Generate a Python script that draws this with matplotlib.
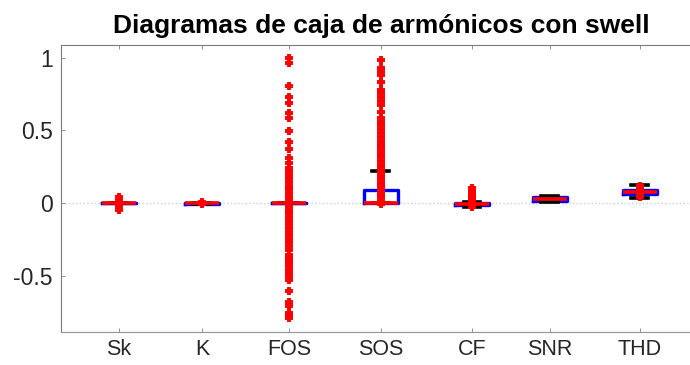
import matplotlib
matplotlib.use("Agg")
import matplotlib.pyplot as plt

plt.rcParams["font.family"] = ["Liberation Sans", "DejaVu Sans"]
plt.rcParams["axes.unicode_minus"] = False

# ─── Data ──────────────────────────────────────────────────────────────────
labels = ["Sk", "K", "FOS", "SOS", "CF", "SNR", "THD"]
q1 = [-0.002, -0.004, -0.002, 0.0, -0.013, 0.014, 0.060]
med = [0.0, 0.0, 0.0, 0.0, -0.005, 0.027, 0.077]
q3 = [0.002, 0.003, 0.002, 0.088, 0.002, 0.043, 0.093]
whislo = [-0.002, -0.004, -0.002, 0.0, -0.026, 0.005, 0.038]
whishi = [0.002, 0.003, 0.002, 0.220, 0.010, 0.051, 0.124]

fliers_sk = [-0.046, -0.036, -0.026, -0.016, -0.008, 0.008, 0.016, 0.026, 0.035, 0.043]
fliers_k = [-0.008, 0.006]
fliers_fos = [0.996, 0.962, 0.806, 0.732, 0.691, 0.618, 0.584, 0.497, 0.423,
              0.371, 0.309, 0.275, 0.245, 0.22, 0.195, 0.17, 0.145, 0.12, 0.095,
              0.07, 0.045, 0.02, -0.02, -0.045, -0.07, -0.095, -0.12, -0.145,
              -0.17, -0.195, -0.22, -0.245, -0.27, -0.295, -0.32, -0.355, -0.375,
              -0.395, -0.415, -0.435, -0.458, -0.48, -0.503, -0.527, -0.607,
              -0.676, -0.693, -0.71, -0.755, -0.772, -0.79]
fliers_sos = [0.984, 0.927, 0.904, 0.881, 0.835, 0.778, 0.755, 0.73, 0.70, 0.675,
              0.629, 0.584, 0.56, 0.535, 0.51, 0.485, 0.457, 0.43, 0.41, 0.389,
              0.365, 0.34, 0.315, 0.29, 0.265, 0.24, 0.215, 0.19, 0.165, 0.14,
              0.115, 0.09, 0.065, 0.04, 0.015, -0.005]
fliers_cf = [-0.025, -0.015, -0.005, 0.005, 0.015, 0.025, 0.035, 0.045, 0.055,
             0.065, 0.075, 0.085, 0.095, 0.105]
fliers_snr = []
fliers_thd = [0.043, 0.05, 0.058, 0.066, 0.074, 0.082, 0.09, 0.098, 0.106, 0.115]
fliers = [fliers_sk, fliers_k, fliers_fos, fliers_sos, fliers_cf, fliers_snr, fliers_thd]

yticks = [-0.5, 0, 0.5, 1]
ytick_labels = ["-0.5", "0", "0.5", "1"]

# ─── Layout ────────────────────────────────────────────────────────────────
POSITIONS = [1, 1.956, 2.958, 4.018, 5.067, 5.965, 7.0]
BOX_W = 0.39

stats = [
    dict(label=lab, q1=a, med=m, q3=b, whislo=lo, whishi=hi, fliers=fl)
    for lab, a, m, b, lo, hi, fl in zip(labels, q1, med, q3, whislo, whishi, fliers)
]

fig = plt.figure(figsize=(6.9, 3.65), dpi=100)
ax = fig.add_axes([61 / 690, 1 - 331.5 / 365, (702 - 61) / 690, (331.5 - 45) / 365])

ax.axhline(0, color="#cfcfcf", ls=":", lw=1.0, zorder=0)

ax.bxp(
    stats,
    positions=POSITIONS,
    widths=BOX_W,
    capwidths=BOX_W / 2,
    showfliers=True,
    boxprops=dict(color="#0000ff", lw=2.4),
    medianprops=dict(color="#ff0000", lw=2.6),
    whiskerprops=dict(color="black", lw=1.5, ls="--"),
    capprops=dict(color="black", lw=2.6),
    flierprops=dict(marker="+", markeredgecolor="#ff0000", markersize=6, markeredgewidth=2.8),
)

ax.set_xlim(0.332, 7.717)
ax.set_ylim(-0.882, 1.087)
ax.set_xticks(POSITIONS)
ax.set_xticklabels(labels)
ax.set_yticks(yticks)
ax.set_yticklabels(ytick_labels)

ax.tick_params(axis="x", direction="in", length=3, width=0.6, color="#808080",
               top=True, labelsize=15.5, pad=5.5, labelcolor="#262626")
ax.tick_params(axis="y", direction="in", length=3, width=0.6, color="#808080",
               right=False, labelsize=16.5, pad=6, labelcolor="#262626")

for side in ["left", "top"]:
    ax.spines[side].set_color("#7a7a7a")
    ax.spines[side].set_linewidth(0.8)
ax.spines["bottom"].set_color("#9a9a9a")
ax.spines["bottom"].set_linewidth(0.9)

ax.set_title("Diagramas de caja de armónicos con swell", fontsize=19,
             fontweight="bold", pad=9)

fig.savefig("out.png", dpi=100)
